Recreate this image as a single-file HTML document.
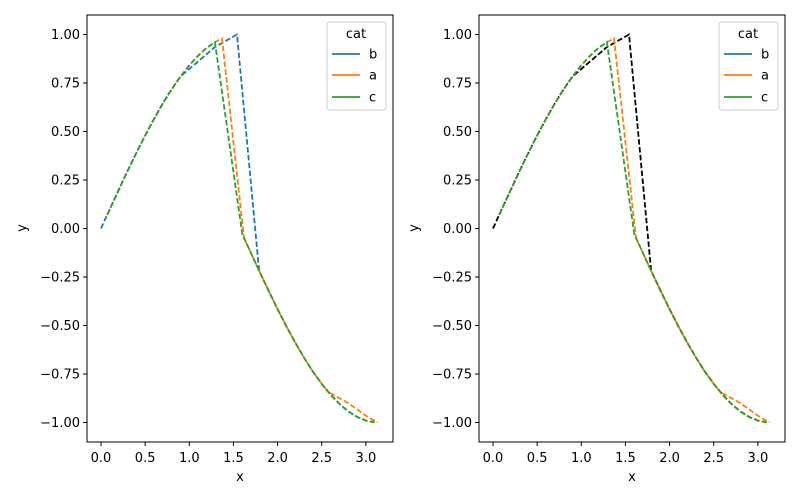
<!DOCTYPE html>
<html><head><meta charset="utf-8"><style>body{margin:0;background:#fff}svg{display:block}text{font-family:"DejaVu Sans","Liberation Sans",sans-serif;font-size:13px;fill:#000}</style></head>
<body><svg id="s" width="800" height="500" xmlns="http://www.w3.org/2000/svg"></svg>
<script>
const S=document.getElementById('s');let h='';
const X0=101,KX=88.3,Y0=228.5,KY=194;
function px(x,o){return o+X0+x*KX}function py(y){return Y0-y*KY}
function rng(a,b,n){let r=[];for(let i=0;i<=n;i++)r.push(a+(b-a)*i/n);return r}
const B=[[0,0]].concat(rng(0.1,0.9,8).map(x=>[x,Math.sin(x)])).concat([[1.29,0.935],[1.54,1.0],[1.79,Math.cos(1.79)]]).concat(rng(1.9,3.1,12).map(x=>[x,Math.cos(x)]));
const A=rng(0.07,1.37,13).map(x=>[x,Math.sin(x)]).concat([[1.62,Math.cos(1.62)],[1.79,Math.cos(1.79)]]).concat(rng(1.9,2.57,7).map(x=>[x,Math.cos(x)])).concat([[2.8,-0.9],[3.0,-0.965],[3.13,-1.0]]);
const C=rng(0.07,1.29,12).map(x=>[x,Math.sin(x)]).concat([[1.6,Math.cos(1.6)],[1.79,Math.cos(1.79)]]).concat(rng(1.9,3.1,12).map(x=>[x,Math.cos(x)]));
function line(d,o,c){return '<polyline fill="none" stroke="'+c+'" stroke-width="1.8" stroke-dasharray="5.5 2.4" points="'+d.map(p=>px(p[0],o).toFixed(1)+','+py(p[1]).toFixed(1)).join(' ')+'"/>'}
[[0,'#1f77b4'],[392,'#000']].forEach(([o,bc])=>{
 const L=87+o;
 h+=line(B,o,bc)+line(A,o,'#ff7f0e')+line(C,o,'#2ca02c');
 h+='<rect x="'+L+'" y="15" width="306" height="427" fill="none" stroke="#000" stroke-width="1"/>';
 for(let i=0;i<=6;i++){const x=px(i*0.5,o);h+='<line x1="'+x+'" x2="'+x+'" y1="442" y2="446" stroke="#000"/><text x="'+x+'" y="462" text-anchor="middle">'+(i*0.5).toFixed(1)+'</text>'}
 for(let i=-4;i<=4;i++){const v=i*0.25,y=py(v);h+='<line x1="'+(L-4)+'" x2="'+L+'" y1="'+y+'" y2="'+y+'" stroke="#000"/><text x="'+(L-7)+'" y="'+(y+4.5)+'" text-anchor="end">'+(v<0?'\u2212':'')+Math.abs(v).toFixed(2)+'</text>'}
 h+='<text x="'+(240+o)+'" y="481" text-anchor="middle">x</text>';
 h+='<text transform="translate('+(26+o)+',228) rotate(-90)" text-anchor="middle">y</text>';
 h+='<rect x="'+(327+o)+'" y="22" width="59" height="88" rx="3" fill="#fff" fill-opacity="0.8" stroke="#ccc"/>';
 h+='<text x="'+(356+o)+'" y="38" text-anchor="middle">cat</text>';
 [['b','#1f77b4',54],['a','#ff7f0e',75],['c','#2ca02c',97]].forEach(([t,c,y])=>{h+='<line x1="'+(332+o)+'" x2="'+(360+o)+'" y1="'+y+'" y2="'+y+'" stroke="'+c+'" stroke-width="1.8"/><text x="'+(369+o)+'" y="'+(y+4.5)+'">'+t+'</text>'});
});
S.innerHTML=h;
</script></body></html>
